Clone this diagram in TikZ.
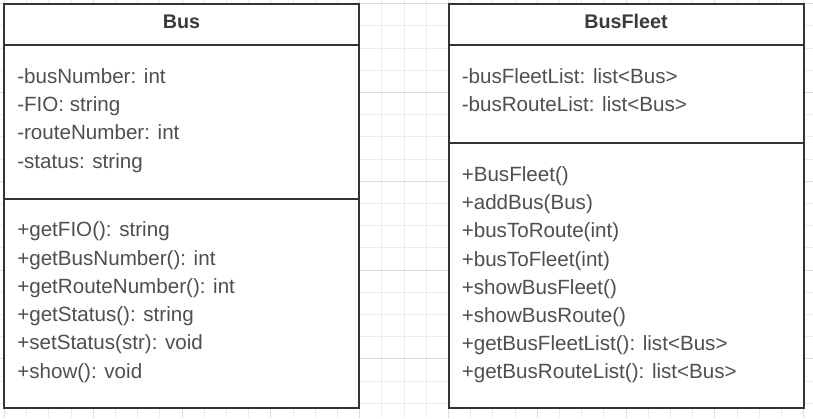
\documentclass[tikz,border=0pt]{standalone}
\usepackage{fontspec}
\setmainfont{Liberation Sans}
\usepackage{tikz}
\usetikzlibrary{positioning}

\definecolor{umlline}{HTML}{333333}
\definecolor{umltext}{HTML}{4F4F4F}
\definecolor{umlhead}{HTML}{3A3A3A}
\definecolor{gridminor}{HTML}{EBEBEB}
\definecolor{gridmajor}{HTML}{DCDCDC}

\tikzset{
    classbox/.style={draw=umlline, line width=1.5pt, fill=white},
    divider/.style={draw=umlline, line width=1.5pt},
    classname/.style={anchor=base, inner sep=0pt, text=umlhead,
        font=\fontsize{14.8pt}{17pt}\selectfont\bfseries},
    member/.style={anchor=base west, inner sep=0pt, text=umltext,
        font=\fontsize{15.45pt}{18pt}\selectfont},
}

\begin{document}
\begin{tikzpicture}[x=0.75pt, y=-0.75pt]

    % CANVAS AND GRID
    \useasboundingbox (0,0) rectangle (813,418);
    \fill[white] (0,0) rectangle (813,418);
    \foreach \k in {0,...,36}
        \draw[gridminor, line width=0.6pt] ({4.3+22.2*\k},0) -- ({4.3+22.2*\k},418);
    \foreach \k in {0,...,18}
        \draw[gridminor, line width=0.6pt] (0,{3.5+22.2*\k}) -- (813,{3.5+22.2*\k});
    \foreach \k in {0,...,9}
        \draw[gridmajor, line width=0.6pt] ({4.3+88.8*\k},0) -- ({4.3+88.8*\k},418);
    \foreach \k in {0,...,4}
        \draw[gridmajor, line width=0.6pt] (0,{3.5+88.8*\k}) -- (813,{3.5+88.8*\k});

    % CLASS BUS
    \draw[classbox] (4,4) rectangle (359,408);
    \draw[divider] (4,45) -- (359,45);
    \draw[divider] (4,199) -- (359,199);
    \node[classname] (bus-name) at (181.5,28.3) {Bus};

    \node[member] (bus-attr1) at (17,83.3) {-busNumber: int};
    \node[member] (bus-attr2) at (17,111.6) {-FIO: string};
    \node[member] (bus-attr3) at (17,139.9) {-routeNumber: int};
    \node[member] (bus-attr4) at (17,168.2) {-status: string};

    \node[member] (bus-op1) at (17,236.7) {+getFIO(): string};
    \node[member] (bus-op2) at (17,265.0) {+getBusNumber(): int};
    \node[member] (bus-op3) at (17,293.3) {+getRouteNumber(): int};
    \node[member] (bus-op4) at (17,321.6) {+getStatus(): string};
    \node[member] (bus-op5) at (17,349.9) {+setStatus(str): void};
    \node[member] (bus-op6) at (17,378.2) {+show(): void};

    % CLASS BUSFLEET
    \draw[classbox] (448.5,4) rectangle (804,408);
    \draw[divider] (448.5,45) -- (804,45);
    \draw[divider] (448.5,143) -- (804,143);
    \node[classname] (fleet-name) at (626,28.3) {BusFleet};

    \node[member] (fleet-attr1) at (461.5,83.3) {-busFleetList: list<Bus>};
    \node[member] (fleet-attr2) at (461.5,111.6) {-busRouteList: list<Bus>};

    \node[member] (fleet-op1) at (461.5,181.7) {+BusFleet()};
    \node[member] (fleet-op2) at (461.5,209.8) {+addBus(Bus)};
    \node[member] (fleet-op3) at (461.5,237.9) {+busToRoute(int)};
    \node[member] (fleet-op4) at (461.5,266.0) {+busToFleet(int)};
    \node[member] (fleet-op5) at (461.5,294.1) {+showBusFleet()};
    \node[member] (fleet-op6) at (461.5,322.2) {+showBusRoute()};
    \node[member] (fleet-op7) at (461.5,350.3) {+getBusFleetList(): list<Bus>};
    \node[member] (fleet-op8) at (461.5,378.4) {+getBusRouteList(): list<Bus>};

\end{tikzpicture}
\end{document}
